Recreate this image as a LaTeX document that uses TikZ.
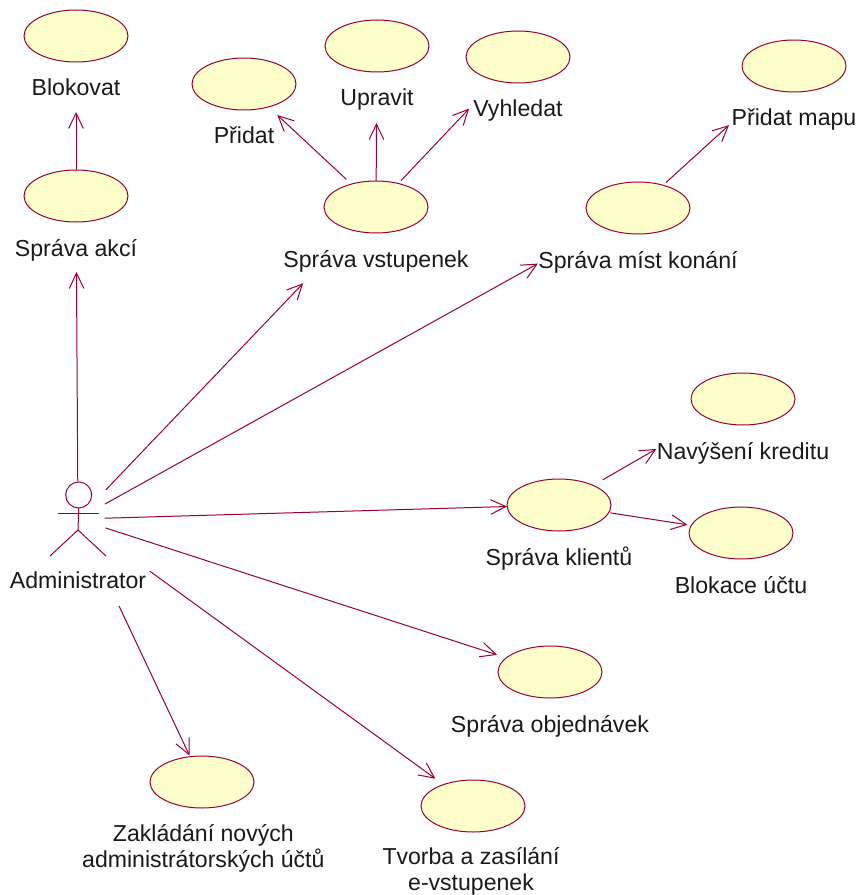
\documentclass[tikz,border=0pt]{standalone}
\usepackage{fontspec}
\setmainfont{Liberation Sans}
\usetikzlibrary{positioning}
\usetikzlibrary{shapes.geometric}
\usetikzlibrary{arrows.meta}
\definecolor{roseline}{HTML}{990033}
\definecolor{rosefill}{HTML}{FFFFCC}

\begin{document}
\begin{tikzpicture}[
                    x=0.75pt, y=-0.75pt,
                    node distance=12.5pt,
                    usecase/.style={draw=roseline, fill=rosefill, ellipse, minimum width=78pt, minimum height=39pt, inner sep=0pt, outer sep=0pt, line width=0.75pt},
                    caption/.style={inner sep=0pt, outer sep=0pt, text height=13pt, text depth=4pt, text=black!90, font=\fontsize{17.35}{19.5}\selectfont},
                    captionlong/.style={inner sep=0pt, outer sep=0pt, align=center, text=black!90, font=\fontsize{17.3}{19.5}\selectfont},
                    limb/.style={draw=roseline, line width=0.75pt},
                    arrow/.style={draw=roseline, line width=0.75pt, -{Straight Barb[length=11.5pt, width=11pt]}}
                ]
                \useasboundingbox (0,0) rectangle (862,895);

                % Left column
                \node[usecase] (blokovat) at (76,36) {};
                \node[caption, below=of blokovat] (blokovat_text) {Blokovat};
                \node[usecase] (sprava_akci) at (76,196) {};
                \node[caption, below=of sprava_akci] (sprava_akci_text) {Správa akcí};

                % Tickets
                \node[usecase] (pridat) at (244,84) {};
                \node[caption, below=of pridat] (pridat_text) {Přidat};
                \node[usecase] (upravit) at (377,46) {};
                \node[caption, below=of upravit] (upravit_text) {Upravit};
                \node[usecase] (vyhledat) at (518,57) {};
                \node[caption, below=of vyhledat] (vyhledat_text) {Vyhledat};
                \node[usecase] (sprava_vstupenek) at (376,207) {};
                \node[caption, below=of sprava_vstupenek] (sprava_vstupenek_text) {Správa vstupenek};

                % Venues
                \node[usecase] (pridat_mapu) at (794,66) {};
                \node[caption, below=of pridat_mapu] (pridat_mapu_text) {Přidat mapu};
                \node[usecase] (sprava_mist) at (638,208) {};
                \node[caption, below=of sprava_mist] (sprava_mist_text) {Správa míst konání};

                % Clients
                \node[usecase] (navyseni) at (743,399) {};
                \node[caption, below=of navyseni] (navyseni_text) {Navýšení kreditu};
                \node[usecase] (sprava_klientu) at (559,505) {};
                \node[caption, below=of sprava_klientu] (sprava_klientu_text) {Správa klientů};
                \node[usecase] (blokace) at (741,533) {};
                \node[caption, below=of blokace] (blokace_text) {Blokace účtu};

                % Orders and the rest
                \node[usecase] (sprava_objednavek) at (550,672) {};
                \node[caption, below=of sprava_objednavek] (sprava_objednavek_text) {Správa objednávek};
                \node[usecase] (zakladani) at (202,782) {};
                \node[captionlong, below=of zakladani, xshift=1pt] (zakladani_text) {Zakládání nových\\administrátorských účtů};
                \node[usecase] (tvorba) at (473,806) {};
                \node[captionlong, below=of tvorba, xshift=-1.5pt, yshift=1pt] (tvorba_text) {Tvorba a zasílání\\e-vstupenek};

                % Actor
                \node[inner sep=0pt, outer sep=0pt] (administrator) at (78,519) {};
                \node[limb, circle, minimum size=19.5pt, inner sep=0pt, outer sep=0pt] (admin_head) at (78.7,495) {};
                \coordinate (admin_hip) at (78,530);
                \draw[limb] (admin_head.south) -- (admin_hip);
                \draw[limb] (58,513) -- (99,513);
                \draw[limb] (50,556) -- (admin_hip) -- (106,556);
                \node[caption, below=31pt of admin_hip] (administrator_text) {Administrator};

                % Connections
                \draw[arrow, shorten <=27.8pt, shorten >=37.5pt] (administrator) -- (sprava_akci);
                \draw[arrow, shorten >=37.5pt] (sprava_akci) -- (blokovat);
                \draw[arrow, shorten <=5.1pt, shorten >=8.9pt] (sprava_vstupenek) -- (pridat);
                \draw[arrow, shorten >=38.3pt] (sprava_vstupenek) -- (upravit);
                \draw[arrow, shorten <=3pt, shorten >=29pt] (sprava_vstupenek) -- (vyhledat);
                \draw[arrow, shorten <=3pt, shorten >=40.5pt] (sprava_mist) -- (pridat_mapu);
                \draw[arrow, shorten <=29.5pt, shorten >=54.7pt] (administrator) -- (sprava_vstupenek);
                \draw[arrow, shorten <=22.5pt, shorten >=56pt] (administrator) -- (sprava_mist);
                \draw[arrow, shorten <=19.5pt] (administrator) -- (sprava_klientu);
                \draw[arrow, shorten <=21.2pt, shorten >=7.3pt] (administrator) -- (sprava_objednavek);
                \draw[arrow, shorten <=66pt, shorten >=7.5pt] (administrator) -- (tvorba);
                \draw[arrow, shorten <=71.5pt, shorten >=1pt] (administrator) -- (zakladani);
                \draw[arrow, shorten <=8.5pt, shorten >=45.5pt] (sprava_klientu) -- (navyseni);
                \draw[arrow, shorten <=1.3pt, shorten >=2.9pt] (sprava_klientu) -- (blokace);
            \end{tikzpicture}
\end{document}
